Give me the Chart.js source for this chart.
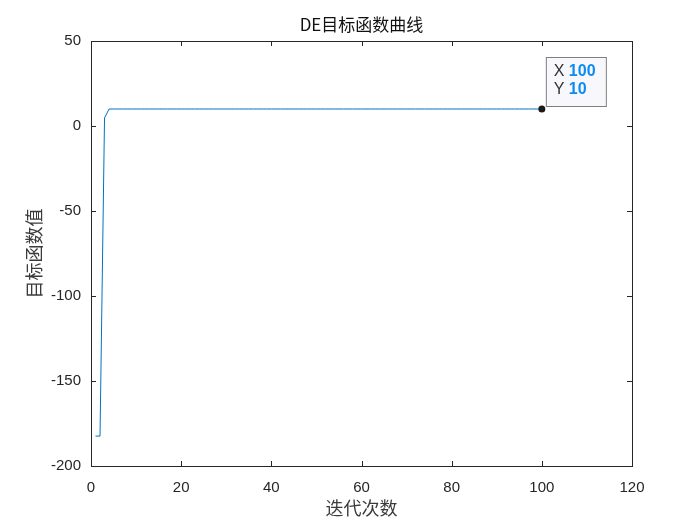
<!DOCTYPE html>
<html>
<head>
<meta charset="utf-8">
<script src="https://cdn.jsdelivr.net/npm/chart.js@4.4.0/dist/chart.umd.min.js"></script>
<style>
  html, body { margin: 0; padding: 0; background: #fff; }
  #wrap { width: 700px; height: 525px; }
</style>
</head>
<body>
<div id="wrap"><canvas id="de-chart" width="700" height="525"></canvas></div>
<script>
// iteration numbers and objective values
const iterations = [
  1, 2, 3, 4, 5, 6, 7, 8, 9, 10, 11, 12, 13, 14, 15, 16, 17, 18, 19, 20,
  21, 22, 23, 24, 25, 26, 27, 28, 29, 30, 31, 32, 33, 34, 35, 36, 37, 38, 39, 40,
  41, 42, 43, 44, 45, 46, 47, 48, 49, 50, 51, 52, 53, 54, 55, 56, 57, 58, 59, 60,
  61, 62, 63, 64, 65, 66, 67, 68, 69, 70, 71, 72, 73, 74, 75, 76, 77, 78, 79, 80,
  81, 82, 83, 84, 85, 86, 87, 88, 89, 90, 91, 92, 93, 94, 95, 96, 97, 98, 99, 100
];
const objValues = [
  -182.4, -182.4, 4.7, 10, 10, 10, 10, 10, 10, 10, 10, 10, 10, 10, 10, 10, 10, 10, 10, 10,
  10, 10, 10, 10, 10, 10, 10, 10, 10, 10, 10, 10, 10, 10, 10, 10, 10, 10, 10, 10,
  10, 10, 10, 10, 10, 10, 10, 10, 10, 10, 10, 10, 10, 10, 10, 10, 10, 10, 10, 10,
  10, 10, 10, 10, 10, 10, 10, 10, 10, 10, 10, 10, 10, 10, 10, 10, 10, 10, 10, 10,
  10, 10, 10, 10, 10, 10, 10, 10, 10, 10, 10, 10, 10, 10, 10, 10, 10, 10, 10, 10
];
const xTicks = [0, 20, 40, 60, 80, 100, 120];
const yTicks = [-200, -150, -100, -50, 0, 50];
const tipIndex = 99; // data tip on the last point

const axisColor = '#262626';
const tickFont = { family: 'Liberation Sans, Arial, sans-serif', size: 15 };
const cjkFont = '"Noto Sans CJK SC", sans-serif';

function fixTicks(list) {
  return function (scale) {
    scale.ticks = list.map(v => ({ value: v }));
  };
}

// box, inward ticks, title, axis labels and the data tip
const matlabLook = {
  id: 'matlabLook',
  afterDraw(chart) {
    const { ctx, chartArea: a, scales } = chart;
    const xs = scales.x, ys = scales.y;
    ctx.save();
    ctx.strokeStyle = axisColor;
    ctx.lineWidth = 1;
    ctx.strokeRect(Math.round(a.left) + 0.5, Math.round(a.top) + 0.5,
      Math.round(a.right - a.left), Math.round(a.bottom - a.top));
    const len = 5;
    ctx.beginPath();
    xTicks.forEach(v => {
      const px = Math.round(xs.getPixelForValue(v)) + 0.5;
      ctx.moveTo(px, a.bottom); ctx.lineTo(px, a.bottom - len);
      ctx.moveTo(px, a.top); ctx.lineTo(px, a.top + len);
    });
    yTicks.forEach(v => {
      const py = Math.round(ys.getPixelForValue(v)) + 0.5;
      ctx.moveTo(a.left, py); ctx.lineTo(a.left + len, py);
      ctx.moveTo(a.right, py); ctx.lineTo(a.right - len, py);
    });
    ctx.stroke();

    // title
    ctx.fillStyle = '#111';
    ctx.textAlign = 'center';
    ctx.textBaseline = 'middle';
    ctx.font = '17px ' + cjkFont;
    ctx.fillText('DE目标函数曲线', (a.left + a.right) / 2, 25);

    // axis labels
    ctx.fillStyle = '#3a3a3a';
    ctx.font = '18px ' + cjkFont;
    ctx.fillText('迭代次数', (a.left + a.right) / 2, 508);
    ctx.save();
    ctx.translate(34, (a.top + a.bottom) / 2);
    ctx.rotate(-Math.PI / 2);
    ctx.fillText('目标函数值', 0, 0);
    ctx.restore();

    // data tip
    const tx = xs.getPixelForValue(iterations[tipIndex]);
    const ty = ys.getPixelForValue(objValues[tipIndex]);
    const bx = tx + 4, by = ty - 52, bw = 60, bh = 49;
    ctx.fillStyle = 'rgba(248,248,252,0.95)';
    ctx.fillRect(bx, by, bw, bh);
    ctx.strokeStyle = '#7f7f7f';
    ctx.strokeRect(bx + 0.5, by + 0.5, bw, bh);
    ctx.textAlign = 'left';
    ctx.textBaseline = 'middle';
    ctx.font = '16px Liberation Sans, Arial, sans-serif';
    ctx.fillStyle = '#333';
    ctx.fillText('X', bx + 8, by + 15);
    ctx.fillText('Y', bx + 8, by + 33);
    ctx.font = 'bold 16px Liberation Sans, Arial, sans-serif';
    ctx.fillStyle = '#0a8cf0';
    ctx.fillText(String(iterations[tipIndex]), bx + 23, by + 15);
    ctx.fillText(String(objValues[tipIndex]), bx + 23, by + 33);

    ctx.beginPath();
    ctx.arc(tx, ty, 3.5, 0, Math.PI * 2);
    ctx.fillStyle = '#1a1a1a';
    ctx.fill();
    ctx.restore();
  }
};

const config = {
  type: 'line',
  data: {
    labels: iterations,
    datasets: [{
      data: iterations.map((x, i) => ({ x: x, y: objValues[i] })),
      borderColor: '#0072BD',
      borderWidth: 1,
      pointRadius: 0,
      fill: false,
      tension: 0
    }]
  },
  options: {
    responsive: false,
    animation: false,
    layout: { padding: 0 },
    plugins: {
      legend: { display: false },
      title: { display: false },
      tooltip: { enabled: false }
    },
    scales: {
      x: {
        type: 'linear',
        position: 'bottom',
        min: 0, max: 120,
        afterBuildTicks: fixTicks(xTicks),
        afterFit(scale) { scale.height = 59; },
        grid: { display: false, drawTicks: false },
        border: { display: false },
        ticks: { color: axisColor, font: tickFont, padding: 13, maxRotation: 0 }
      },
      xTop: {
        type: 'linear',
        position: 'top',
        min: 0, max: 120,
        afterFit(scale) { scale.height = 41; },
        grid: { display: false, drawTicks: false },
        border: { display: false },
        ticks: { display: false }
      },
      y: {
        type: 'linear',
        position: 'left',
        min: -200, max: 50,
        afterBuildTicks: fixTicks(yTicks),
        afterFit(scale) { scale.width = 91; },
        grid: { display: false, drawTicks: false },
        border: { display: false },
        ticks: { color: axisColor, font: tickFont, padding: 10 }
      },
      yRight: {
        type: 'linear',
        position: 'right',
        min: -200, max: 50,
        afterFit(scale) { scale.width = 68; },
        grid: { display: false, drawTicks: false },
        border: { display: false },
        ticks: { display: false }
      }
    }
  },
  plugins: [matlabLook]
};

window.addEventListener('load', () => {
  const ctx = document.getElementById('de-chart').getContext('2d');
  new Chart(ctx, config);
});
</script>
</body>
</html>
